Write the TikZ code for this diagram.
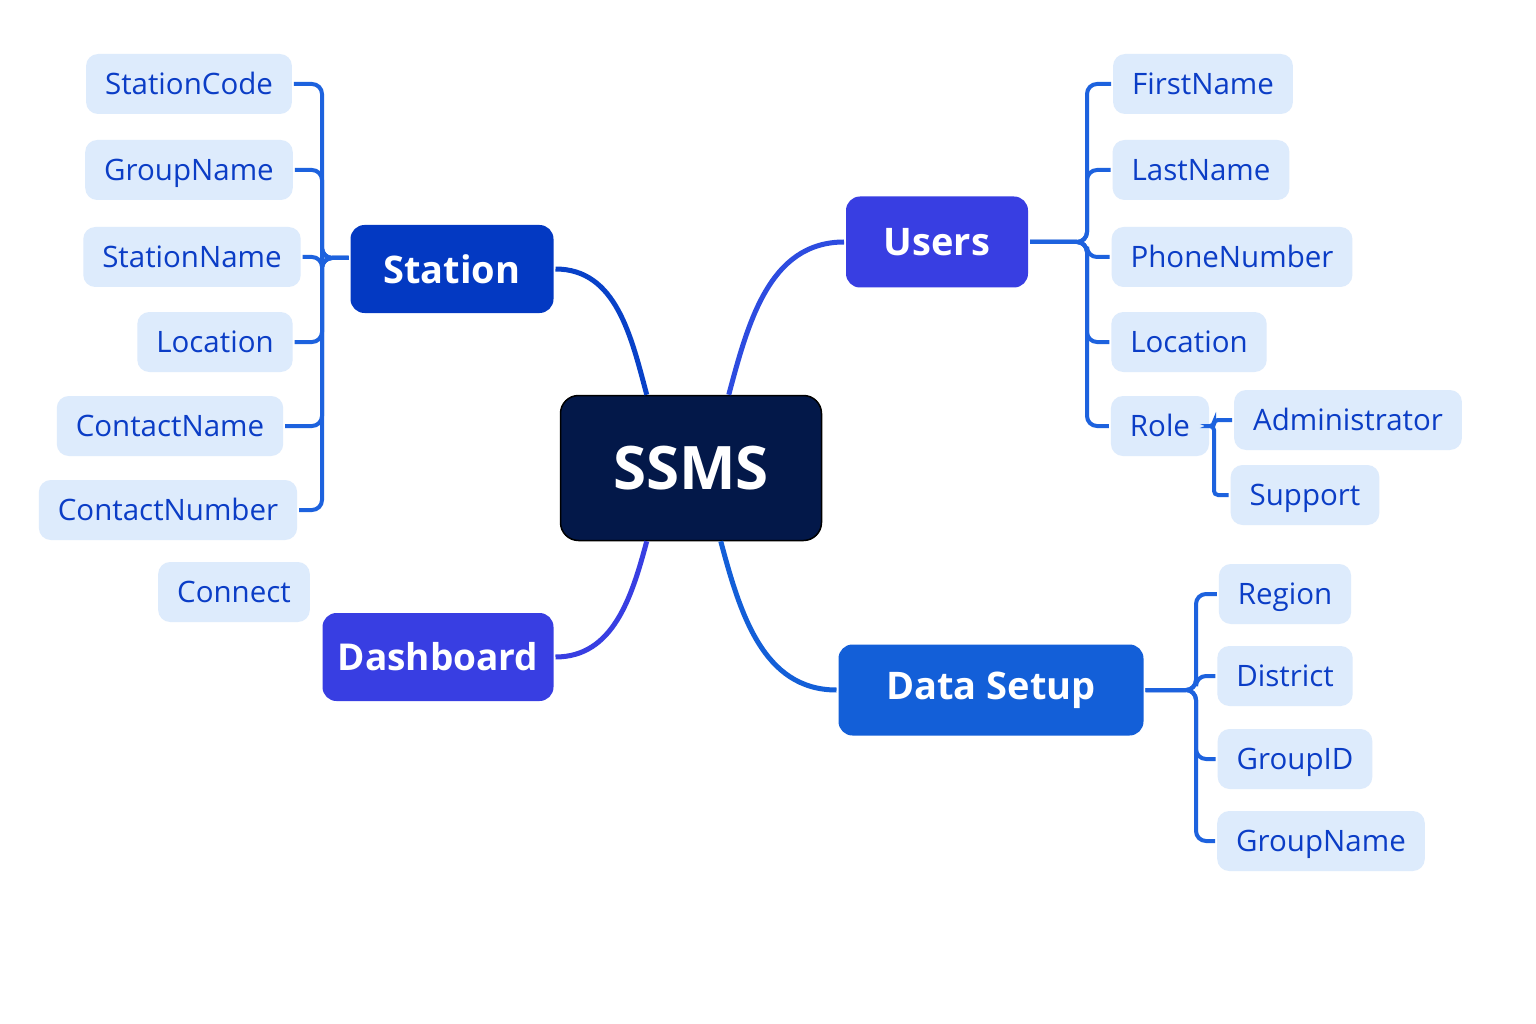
\documentclass[tikz,border=0pt]{standalone}
\usepackage{fontspec}
\setmainfont{Open Sans}
\usetikzlibrary{calc}
\definecolor{ssmsbg}{HTML}{031849}
\definecolor{stationbg}{HTML}{0339C2}
\definecolor{usersbg}{HTML}{383EE2}
\definecolor{databg}{HTML}{135FD8}
\definecolor{leafbg}{HTML}{DDEBFC}
\definecolor{leaftx}{HTML}{0B3DC6}
\definecolor{linkblue}{HTML}{1D62DE}

\begin{document}
\begin{tikzpicture}[x=1pt, y=-1pt, line width=4,
	leaf/.style={fill=leafbg, text=leaftx, rounded corners=12, minimum height=60, inner xsep=19,
		text height=24, text depth=3, font=\fontsize{29.5}{34}\selectfont},
	hub/.style={text=white, rounded corners=14, minimum height=88, inner xsep=0,
		font=\bfseries\fontsize{38}{44}\selectfont},
	link/.style={draw=linkblue, line width=4, rounded corners=10},
	curve/.style={line width=5}]
		\useasboundingbox[fill=white] (0,0) rectangle (1536,1024);
		% centre
		\node[draw=black, line width=1.5, fill=ssmsbg, text=white, rounded corners=18, minimum width=261, minimum height=145,
			font=\bfseries\fontsize{60}{70}\selectfont] (ss) at (691,468) {SSMS};
		\node[hub, fill=stationbg, minimum width=203] (st) at (452,269) {Station};
		\node[hub, fill=usersbg, minimum width=182, minimum height=91] (us) at (937,242) {Users};
		\node[hub, fill=usersbg, minimum width=231, font=\bfseries\fontsize{37}{44}\selectfont] (db) at (438,657) {Dashboard};
		\node[hub, fill=databg, minimum width=305, minimum height=91] (ds) at (991,690) {Data Setup};
		% station
		\node[leaf] (sc) at (189,84) {StationCode};
		\node[leaf] (sgn) at (189,170) {GroupName};
		\node[leaf] (sn) at (192,257) {StationName};
		\node[leaf] (slo) at (215,342) {Location};
		\node[leaf] (cn) at (170,426) {ContactName};
		\node[leaf] (cnum) at (168,510) {ContactNumber};
		\node[leaf] (co) at (234,592) {Connect};
		% users
		\node[leaf] (fn) at (1203,84) {FirstName};
		\node[leaf] (ln) at (1201,170) {LastName};
		\node[leaf] (pn) at (1232,257) {PhoneNumber};
		\node[leaf] (ulo) at (1189,342) {Location};
		\node[leaf] (ro) at (1160,426) {Role};
		\node[leaf] (ad) at (1348,420) {Administrator};
		\node[leaf] (su) at (1305,495) {Support};
		% data setup
		\node[leaf] (re) at (1285,594) {Region};
		\node[leaf] (di) at (1285,676) {District};
		\node[leaf] (gi) at (1295,759) {GroupID};
		\node[leaf] (dgn) at (1321,841) {GroupName};
		% brackets
		\coordinate (stj) at (322,258);
		\coordinate (uj) at (1087,242);
		\coordinate (rj) at (1214,426);
		\coordinate (dj) at (1196,690);
		\foreach \n in {sc,sgn,sn,slo,cn,cnum}
			\draw[link] (\n.east) -| (stj) -- (st.west |- stj);
		\foreach \n in {fn,ln,pn,ulo,ro}
			\draw[link] (us.east) -- (uj) |- (\n.west);
		\foreach \n in {ad,su}
			\draw[link, rounded corners=4] (ro.east) -- (rj) |- (\n.west);
		\foreach \n in {re,di,gi,dgn}
			\draw[link] (ds.east) -- (dj) |- (\n.west);
		% curves to the centre
		\draw[curve, draw=stationbg!80!linkblue] (st.east) to[out=0, in=105] ($(ss.north west)+(87,0)$);
		\draw[curve, draw=usersbg!60!linkblue] (us.west) to[out=180, in=75] ($(ss.north west)+(169,0)$);
		\draw[curve, draw=usersbg] (db.east) to[out=0, in=255] ($(ss.south west)+(87,0)$);
		\draw[curve, draw=databg] (ds.west) to[out=180, in=285] ($(ss.south west)+(161,0)$);
	\end{tikzpicture}
\end{document}
